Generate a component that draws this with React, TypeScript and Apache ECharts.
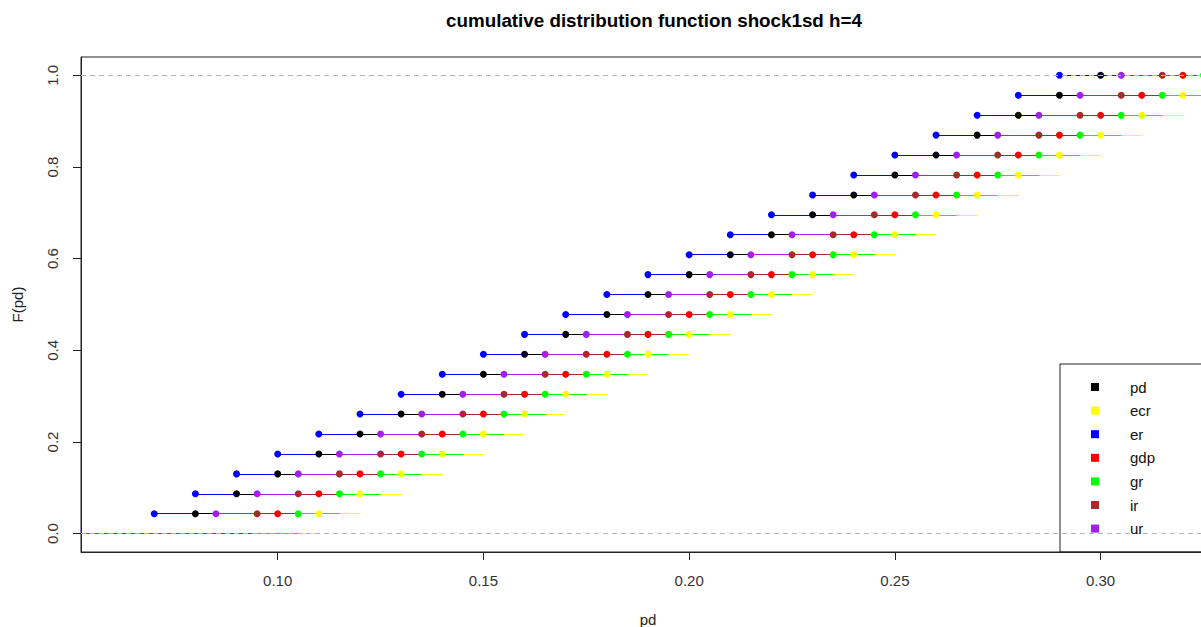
import React, { useEffect, useRef } from "react";
import * as echarts from "echarts";

// ECDF step heights (i/23)
const F_LEVELS = [0.0435, 0.087, 0.1304, 0.1739, 0.2174, 0.2609, 0.3043, 0.3478, 0.3913, 0.4348, 0.4783, 0.5217, 0.5652, 0.6087, 0.6522, 0.6957, 0.7391, 0.7826, 0.8261, 0.8696, 0.913, 0.9565, 1.0];

// jump locations for each variable
const PD = [0.08, 0.09, 0.10, 0.11, 0.12, 0.13, 0.14, 0.15, 0.16, 0.17, 0.18, 0.19, 0.20, 0.21, 0.22, 0.23, 0.24, 0.25, 0.26, 0.27, 0.28, 0.29, 0.30];
const ECR = [0.11, 0.12, 0.13, 0.14, 0.15, 0.16, 0.17, 0.18, 0.19, 0.20, 0.21, 0.22, 0.23, 0.24, 0.25, 0.26, 0.27, 0.28, 0.29, 0.30, 0.31, 0.32, 0.33];
const ER = [0.07, 0.08, 0.09, 0.10, 0.11, 0.12, 0.13, 0.14, 0.15, 0.16, 0.17, 0.18, 0.19, 0.20, 0.21, 0.22, 0.23, 0.24, 0.25, 0.26, 0.27, 0.28, 0.29];
const GDP = [0.10, 0.11, 0.12, 0.13, 0.14, 0.15, 0.16, 0.17, 0.18, 0.19, 0.20, 0.21, 0.22, 0.23, 0.24, 0.25, 0.26, 0.27, 0.28, 0.29, 0.30, 0.31, 0.32];
const GR = [0.105, 0.115, 0.125, 0.135, 0.145, 0.155, 0.165, 0.175, 0.185, 0.195, 0.205, 0.215, 0.225, 0.235, 0.245, 0.255, 0.265, 0.275, 0.285, 0.295, 0.305, 0.315, 0.325];
const IR = [0.095, 0.105, 0.115, 0.125, 0.135, 0.145, 0.155, 0.165, 0.175, 0.185, 0.195, 0.205, 0.215, 0.225, 0.235, 0.245, 0.255, 0.265, 0.275, 0.285, 0.295, 0.305, 0.315];
const UR = [0.085, 0.095, 0.105, 0.115, 0.125, 0.135, 0.145, 0.155, 0.165, 0.175, 0.185, 0.195, 0.205, 0.215, 0.225, 0.235, 0.245, 0.255, 0.265, 0.275, 0.285, 0.295, 0.305];

const SERIES_NAMES = ["pd", "ecr", "er", "gdp", "gr", "ir", "ur"];
const SERIES_VALUES = [PD, ECR, ER, GDP, GR, IR, UR];
const SERIES_COLORS = ["#000000", "#FFFF00", "#0000FF", "#FF0000", "#00FF00", "#A52A2A", "#A020F0"];

const X_TICKS = [0.1, 0.15, 0.2, 0.25, 0.3];
const Y_TICKS = [0, 0.2, 0.4, 0.6, 0.8, 1.0];
const X_MIN = 0.0522;
const X_MAX = 0.3278;
const Y_MIN = -0.04;
const Y_MAX = 1.04;

const TITLE = "cumulative distribution function shock1sd h=4";
const FONT = "'Liberation Sans', Arial, sans-serif";

export default function App() {
  const ref = useRef<HTMLDivElement>(null);

  useEffect(() => {
    if (!ref.current) return;
    const chart = echarts.init(ref.current, undefined, { renderer: "svg" });

    const series: any[] = [];
    SERIES_VALUES.forEach((xs, si) => {
      const color = SERIES_COLORS[si];
      const segs: any[] = [];
      segs.push({ coords: [[X_MIN, 0], [xs[0], 0]] });
      xs.forEach((x, i) => {
        const xEnd = i + 1 < xs.length ? xs[i + 1] : X_MAX;
        segs.push({ coords: [[x, F_LEVELS[i]], [xEnd, F_LEVELS[i]]] });
      });
      series.push({
        name: SERIES_NAMES[si] + "-steps",
        type: "lines",
        coordinateSystem: "cartesian2d",
        polyline: false,
        clip: true,
        silent: true,
        lineStyle: { color, width: 1.1, opacity: 1 },
        data: segs,
      });
      series.push({
        name: SERIES_NAMES[si],
        type: "scatter",
        symbol: "circle",
        symbolSize: 7,
        silent: true,
        itemStyle: { color, opacity: 1 },
        data: xs.map((x, i) => [x, F_LEVELS[i]]),
      });
    });
    series.push({
      name: "ref",
      type: "lines",
      coordinateSystem: "cartesian2d",
      polyline: false,
      silent: true,
      z: 5,
      lineStyle: { color: "#B3B3B3", width: 1, type: [5, 4], opacity: 1 },
      data: [
        { coords: [[X_MIN, 0], [X_MAX, 0]] },
        { coords: [[X_MIN, 1], [X_MAX, 1]] },
      ],
    });

    const legendTop = 364;
    const rowGap = 23.6;
    const legendGraphics: any[] = [
      {
        type: "rect",
        shape: { x: 1060, y: legendTop, width: 200, height: 188 },
        style: { fill: "none", stroke: "#222", lineWidth: 1 },
        z: 10,
      },
    ];
    SERIES_NAMES.forEach((n, i) => {
      const cy = 387 + i * rowGap;
      legendGraphics.push({
        type: "rect",
        shape: { x: 1091, y: cy - 4, width: 8, height: 8 },
        style: { fill: SERIES_COLORS[i] },
        z: 10,
      });
      legendGraphics.push({
        type: "text",
        x: 1130,
        y: cy,
        style: {
          text: n,
          fill: "#111",
          font: `15px ${FONT}`,
          textAlign: "left",
          textVerticalAlign: "middle",
        },
        z: 10,
      });
    });

    chart.setOption({
      animation: false,
      backgroundColor: "#ffffff",
      textStyle: { fontFamily: FONT },
      title: {
        text: TITLE,
        left: 649,
        top: 6,
        textAlign: "center",
        textStyle: { fontSize: 18.8, fontWeight: "bold", color: "#000", fontFamily: FONT },
      },
      grid: {
        left: 81,
        top: 57,
        width: 1134,
        height: 495,
        show: true,
        borderColor: "#222",
        borderWidth: 1,
        backgroundColor: "transparent",
        containLabel: false,
        outerBoundsMode: "none",
      },
      xAxis: {
        type: "value",
        min: X_MIN,
        max: X_MAX,
        name: "pd",
        nameLocation: "middle",
        nameGap: 60,
        nameTextStyle: { fontSize: 15, color: "#222", fontFamily: FONT },
        axisLine: { show: true, onZero: false, lineStyle: { color: "#222", width: 1 } },
        axisTick: { show: true, length: 8, inside: false, customValues: X_TICKS, lineStyle: { color: "#222" } },
        axisLabel: {
          show: true,
          customValues: X_TICKS,
          margin: 21,
          fontSize: 15,
          color: "#333",
          fontFamily: FONT,
          formatter: (v: number) => v.toFixed(2),
        },
        splitLine: { show: false },
      },
      yAxis: {
        type: "value",
        min: Y_MIN,
        max: Y_MAX,
        name: "F(pd)",
        nameLocation: "middle",
        nameGap: 56,
        nameTextStyle: { fontSize: 15, color: "#222", fontFamily: FONT },
        axisLine: { show: true, onZero: false, lineStyle: { color: "#222", width: 1 } },
        axisTick: { show: true, length: 8, inside: false, customValues: Y_TICKS, lineStyle: { color: "#222" } },
        axisLabel: {
          show: true,
          customValues: Y_TICKS,
          rotate: 90,
          margin: 21,
          fontSize: 15,
          color: "#333",
          fontFamily: FONT,
          formatter: (v: number) => v.toFixed(1),
        },
        splitLine: { show: false },
      },
      graphic: legendGraphics,
      series,
    });

    return () => chart.dispose();
  }, []);

  return (
    <div
      ref={ref}
      style={{ position: "absolute", left: 0, top: 0, width: 1201, height: 627 }}
    />
  );
}
